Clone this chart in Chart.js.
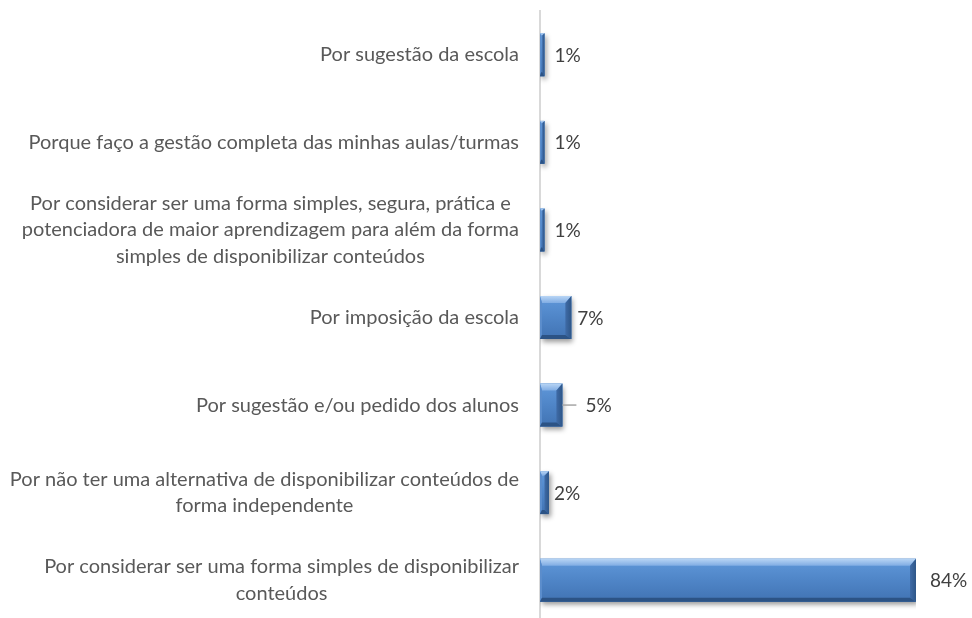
<!DOCTYPE html>
<html>
<head>
<meta charset="utf-8">
<script src="https://cdn.jsdelivr.net/npm/chart.js@4/dist/chart.umd.min.js"></script>
<style>
  html, body { margin: 0; padding: 0; background: #ffffff; overflow: hidden; }
  #wrap { width: 972px; height: 618px; overflow: hidden; position: relative; }
  canvas { display: block; }
</style>
</head>
<body>
<div id="wrap"><canvas id="c" width="972" height="630"></canvas></div>
<script>
// ---- Data ----
const categories = [
  ['Por sugestão da escola'],
  ['Porque faço a gestão completa das minhas aulas/turmas'],
  ['Por considerar ser uma forma simples, segura, prática e', 'potenciadora de maior aprendizagem para além da forma', 'simples de disponibilizar conteúdos'],
  ['Por imposição da escola'],
  ['Por sugestão e/ou pedido dos alunos'],
  ['Por não ter uma alternativa de disponibilizar conteúdos de', 'forma independente'],
  ['Por considerar ser uma forma simples de disponibilizar', 'conteúdos']
];
const values = [1, 1, 1, 7, 5, 2, 84];
const valueLabels = ['1%', '1%', '1%', '7%', '5%', '2%', '84%'];

// ---- Styling (not data) ----
const FONT = '"Lato", "Open Sans", sans-serif';
const CAT_FONT_SIZE = 20;
const VAL_FONT_SIZE = 19;
const LABEL_RIGHT = 519;
const LINE_H = 26.5;
const labelOffsets = [10, 10, 10, 6, 23, 5, 14];
const leaderIndex = 4;

const shadowPlugin = {
  id: 'barShadow',
  beforeDatasetDraw(chart) {
    const ctx = chart.ctx;
    ctx.save();
    ctx.shadowColor = 'rgba(0,0,0,0.40)';
    ctx.shadowBlur = 5;
    ctx.shadowOffsetX = 2;
    ctx.shadowOffsetY = 3;
  },
  afterDatasetDraw(chart) {
    chart.ctx.restore();
  }
};

function poly(ctx, pts, fill) {
  ctx.beginPath();
  ctx.moveTo(pts[0][0], pts[0][1]);
  for (let k = 1; k < pts.length; k++) ctx.lineTo(pts[k][0], pts[k][1]);
  ctx.closePath();
  ctx.fillStyle = fill;
  ctx.fill();
}

const bevelPlugin = {
  id: 'bevel',
  afterDatasetsDraw(chart) {
    const ctx = chart.ctx;
    const meta = chart.getDatasetMeta(0);
    meta.data.forEach((bar) => {
      const left = Math.min(bar.base, bar.x);
      const right = Math.max(bar.base, bar.x);
      const top = bar.y - bar.height / 2;
      const bot = bar.y + bar.height / 2;
      const w = right - left;
      const h = bot - top;
      const bt = Math.min(7, w / 2, h / 4);
      const br = Math.min(6, w / 2);
      const bb = Math.min(4, h / 6);
      const bl = Math.min(2, w / 4);
      ctx.save();
      const g = ctx.createLinearGradient(0, top, 0, bot);
      g.addColorStop(0, '#6098da');
      g.addColorStop(0.5, '#4f85c7');
      g.addColorStop(1, '#4173b3');
      ctx.fillStyle = g;
      ctx.fillRect(left, top, w, h);
      const gt = ctx.createLinearGradient(0, top, 0, top + bt);
      gt.addColorStop(0, '#b8d5f5');
      gt.addColorStop(1, '#80ace3');
      poly(ctx, [[left, top], [right, top], [right - br, top + bt], [left + bl, top + bt]], gt);
      poly(ctx, [[left, top], [left + bl, top + bt], [left + bl, bot - bb], [left, bot]], '#5b8dcc');
      const gr = ctx.createLinearGradient(right - br, 0, right, 0);
      gr.addColorStop(0, '#3f6ba7');
      gr.addColorStop(1, '#2e5688');
      poly(ctx, [[right, top], [right, bot], [right - br, bot - bb], [right - br, top + bt]], gr);
      poly(ctx, [[left, bot], [right, bot], [right - br, bot - bb], [left + bl, bot - bb]], '#2c5385');
      ctx.restore();
    });
  }
};

const labelPlugin = {
  id: 'labels',
  afterDraw(chart) {
    const ctx = chart.ctx;
    const yScale = chart.scales.y;
    ctx.save();
    ctx.font = CAT_FONT_SIZE + 'px ' + FONT;
    ctx.fillStyle = '#595959';
    ctx.textAlign = 'center';
    ctx.textBaseline = 'middle';
    chart.data.labels.forEach((lines, i) => {
      const yc = yScale.getPixelForValue(i);
      let maxW = 0;
      lines.forEach(l => { maxW = Math.max(maxW, ctx.measureText(l).width); });
      const cx = LABEL_RIGHT - maxW / 2;
      const n = lines.length;
      lines.forEach((l, j) => {
        ctx.fillText(l, cx, yc + (j - (n - 1) / 2) * LINE_H);
      });
    });
    const meta = chart.getDatasetMeta(0);
    ctx.font = VAL_FONT_SIZE + 'px ' + FONT;
    ctx.fillStyle = '#404040';
    ctx.textAlign = 'left';
    meta.data.forEach((bar, i) => {
      const x = bar.x + labelOffsets[i];
      if (i === leaderIndex) {
        ctx.save();
        ctx.strokeStyle = '#a6a6a6';
        ctx.lineWidth = 1.5;
        ctx.beginPath();
        ctx.moveTo(bar.x, bar.y);
        ctx.lineTo(bar.x + 14, bar.y);
        ctx.stroke();
        ctx.restore();
      }
      ctx.fillText(valueLabels[i], x, bar.y + 1);
    });
    ctx.restore();
  }
};

new Chart(document.getElementById('c'), {
  type: 'bar',
  data: {
    labels: categories,
    datasets: [{
      data: values,
      backgroundColor: '#4f81bd',
      borderWidth: 0,
      barPercentage: 0.49,
      categoryPercentage: 1.0
    }]
  },
  options: {
    indexAxis: 'y',
    responsive: false,
    animation: false,
    layout: { padding: { left: 540, right: 56, top: 11, bottom: 6 } },
    plugins: { legend: { display: false }, tooltip: { enabled: false } },
    scales: {
      x: { display: false, min: 0, max: 84 },
      y: {
        display: true,
        ticks: { display: false },
        grid: { display: false, drawTicks: false },
        border: { display: true, color: '#d9d9d9', width: 2 }
      }
    }
  },
  plugins: [shadowPlugin, bevelPlugin, labelPlugin]
});
</script>
</body>
</html>
